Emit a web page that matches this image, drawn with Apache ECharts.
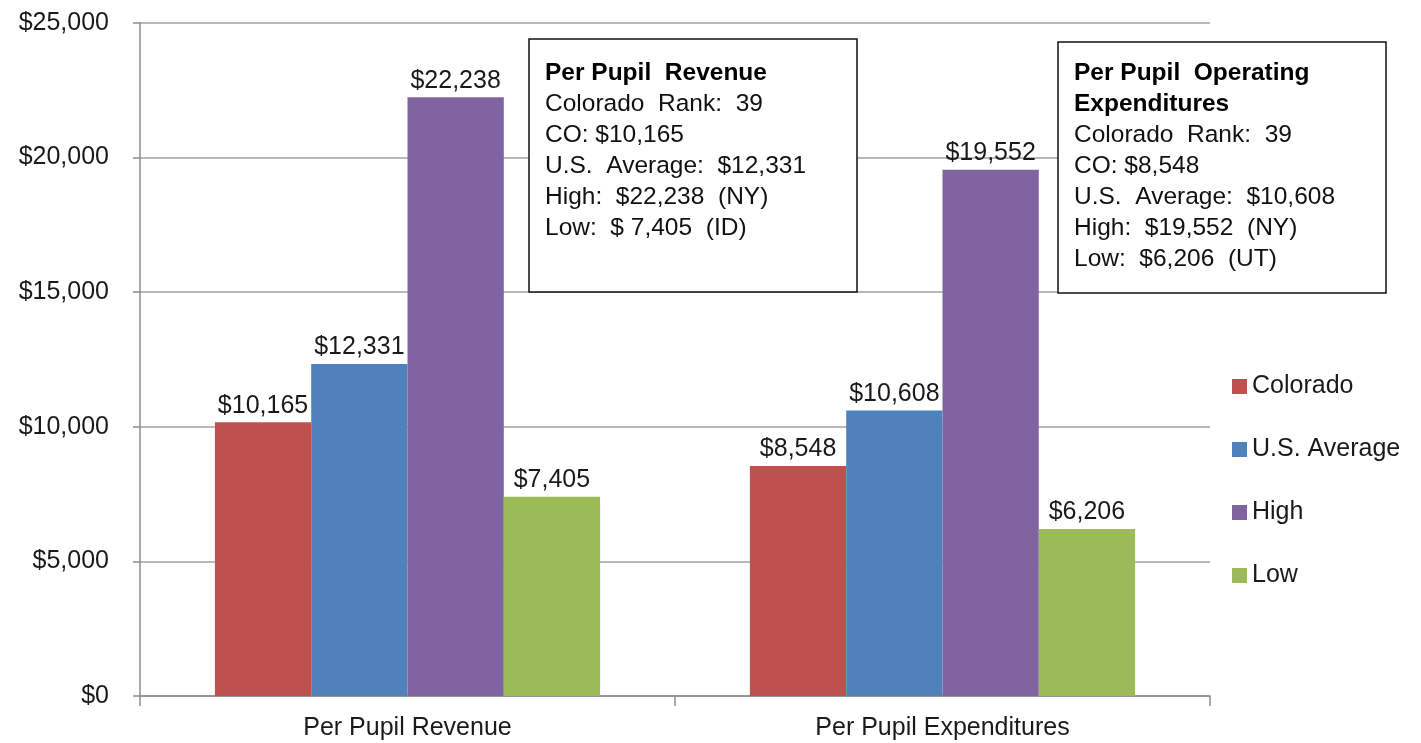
<!DOCTYPE html>
<html>
<head>
<meta charset="utf-8">
<script src="https://cdn.jsdelivr.net/npm/echarts@6/dist/echarts.min.js"></script>
<style>
html,body{margin:0;padding:0;background:#fff;}
#chart{width:1421px;height:743px;}
</style>
</head>
<body>
<div id="chart"></div>
<script>
var categories = ['Per Pupil Revenue', 'Per Pupil Expenditures'];
var seriesNames = ['Colorado', 'U.S. Average', 'High', 'Low'];
var colorado = [10165, 8548];
var usAverage = [12331, 10608];
var high = [22238, 19552];
var low = [7405, 6206];
var colors = ['#C0504D', '#4F81BD', '#8064A2', '#9BBB59'];
var box1Title = ['Per Pupil  Revenue'];
var box1Lines = ['Colorado  Rank:  39', 'CO: $10,165', 'U.S.  Average:  $12,331', 'High:  $22,238  (NY)', 'Low:  $ 7,405  (ID)'];
var box2Title = ['Per Pupil  Operating', 'Expenditures'];
var box2Lines = ['Colorado  Rank:  39', 'CO: $8,548', 'U.S.  Average:  $10,608', 'High:  $19,552  (NY)', 'Low:  $6,206  (UT)'];

var FONT = "'Liberation Sans', Arial, sans-serif";
function money(v) { return '$' + v.toLocaleString('en-US'); }

var seriesData = [colorado, usAverage, high, low];
var series = seriesNames.map(function (n, i) {
  return {
    name: n,
    type: 'bar',
    data: seriesData[i],
    itemStyle: { color: colors[i] },
    barGap: '0%',
    barCategoryGap: '28%',
    label: {
      show: true,
      position: 'top',
      distance: 4,
      formatter: function (p) { return money(p.value); },
      fontFamily: FONT,
      fontSize: 25,
      color: '#1a1a1a'
    }
  };
});

function buildText(title, lines) {
  return title.map(function (t) { return '{b|' + t + '}'; }).join('\n') + '\n' + lines.join('\n');
}
function box(x, y, w, h, title, lines, textTop) {
  return {
    type: 'group',
    children: [
      { type: 'rect', shape: { x: x, y: y, width: w, height: h },
        style: { fill: '#fff', stroke: '#111', lineWidth: 1.5 }, z: 10 },
      { type: 'text', z: 11,
        style: {
          x: x + 16, y: textTop,
          text: buildText(title, lines),
          fontFamily: FONT, fontSize: 24.5, lineHeight: 31, fill: '#111',
          rich: { b: { fontWeight: 'bold', fontSize: 24.5, lineHeight: 31, fontFamily: FONT, fill: '#000' } }
        } }
    ]
  };
}

var chart = echarts.init(document.getElementById('chart'));
chart.setOption({
  animation: false,
  backgroundColor: '#fff',
  grid: { left: 140, right: 211, top: 23, bottom: 47, containLabel: false },
  legend: {
    orient: 'vertical',
    left: 1227,
    top: 369,
    itemWidth: 15,
    itemHeight: 15,
    itemGap: 38,
    icon: 'rect',
    textStyle: { fontFamily: FONT, fontSize: 25, color: '#1a1a1a', lineHeight: 24 },
    data: seriesNames
  },
  xAxis: {
    type: 'category',
    data: categories,
    axisLine: { lineStyle: { color: '#8c8c8c', width: 1.5 } },
    axisTick: { show: true, length: 10, lineStyle: { color: '#8c8c8c', width: 1.5 } },
    axisLabel: { fontFamily: FONT, fontSize: 25, color: '#1a1a1a', margin: 20 }
  },
  yAxis: {
    type: 'value',
    min: 0, max: 25000, interval: 5000,
    axisLine: { show: true, lineStyle: { color: '#8c8c8c', width: 1.5 } },
    axisTick: { show: true, length: 7, lineStyle: { color: '#8c8c8c', width: 1.5 } },
    splitLine: { lineStyle: { color: '#a0a0a0', width: 1.5 } },
    axisLabel: { fontFamily: FONT, fontSize: 25, color: '#1a1a1a', margin: 31,
      formatter: function (v) { return money(v); } }
  },
  series: series,
  graphic: [
    box(529, 39, 328, 253, box1Title, box1Lines, 58),
    box(1058, 42, 328, 251, box2Title, box2Lines, 58)
  ]
});
</script>
</body>
</html>
